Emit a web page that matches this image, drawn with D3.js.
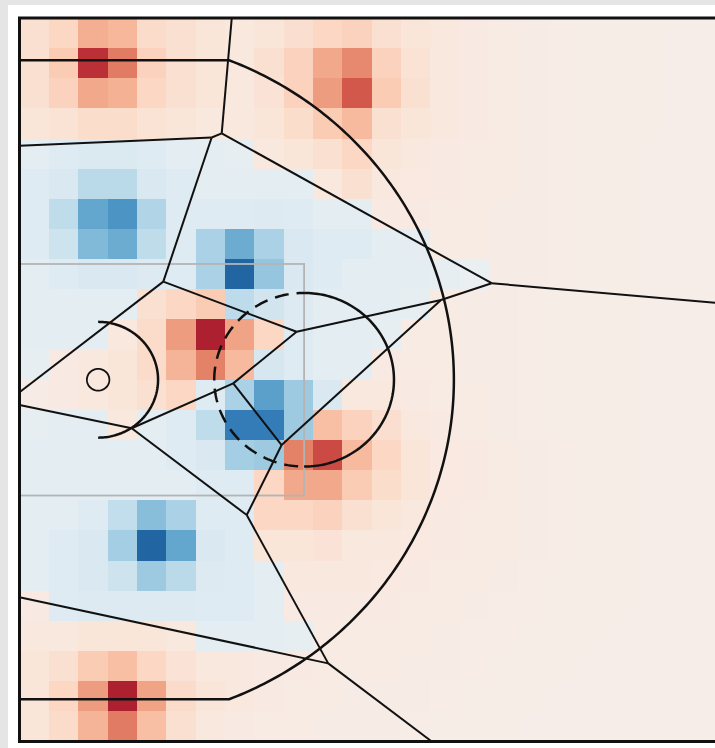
<!DOCTYPE html>
<html>
<head>
<meta charset="utf-8">
<script src="https://cdn.jsdelivr.net/npm/d3@7/dist/d3.min.js"></script>
<style>
  html, body { margin: 0; padding: 0; background: #e5e5e5; }
  svg { display: block; }
</style>
</head>
<body>
<svg id="chart" width="715" height="748"></svg>
<script>
// Half court in feet, baseline on the left, sidelines top and bottom.
const courtLength = 47;
const courtWidth = 50;
const hoop = [5.25, 25];
const rimRadius = 0.75;
const threeRadius = 23.75;
const cornerThreeX = 14;
const laneLength = 19;
const laneWidth = 16;
const freeThrowRadius = 6;
const restrictedRadius = 4;

// Shooting difference per grid bin (24 columns along the court length, 24 rows across).
// Positive = above average (red), negative = below average (blue).
const gridCols = 24;
const gridRows = 24;
const binValues = [
  [0.15, 0.20, 0.36, 0.33, 0.18, 0.15, 0.12, 0.10, 0.12, 0.16, 0.20, 0.22, 0.15, 0.12, 0.10, 0.08, 0.07, 0.06, 0.055, 0.05, 0.05, 0.05, 0.045, 0.045],
  [0.15, 0.25, 0.74, 0.52, 0.22, 0.15, 0.12, 0.10, 0.15, 0.22, 0.38, 0.48, 0.22, 0.14, 0.10, 0.08, 0.07, 0.06, 0.055, 0.05, 0.05, 0.05, 0.045, 0.045],
  [0.15, 0.22, 0.38, 0.35, 0.20, 0.15, 0.12, 0.10, 0.13, 0.22, 0.42, 0.62, 0.25, 0.15, 0.10, 0.08, 0.07, 0.06, 0.055, 0.05, 0.05, 0.05, 0.045, 0.045],
  [0.12, 0.14, 0.17, 0.17, 0.14, 0.12, 0.10, 0.10, 0.12, 0.17, 0.25, 0.32, 0.15, 0.12, 0.10, 0.08, 0.07, 0.06, 0.055, 0.05, 0.05, 0.05, 0.045, 0.045],
  [-0.10, -0.12, -0.14, -0.14, -0.12, -0.10, -0.10, -0.08, 0.10, 0.12, 0.15, 0.20, 0.12, 0.10, 0.08, 0.07, 0.065, 0.06, 0.055, 0.05, 0.05, 0.045, 0.045, 0.045],
  [-0.12, -0.15, -0.27, -0.27, -0.15, -0.12, -0.10, -0.10, -0.10, -0.10, 0.10, 0.15, 0.10, 0.09, 0.08, 0.07, 0.065, 0.06, 0.055, 0.05, 0.05, 0.045, 0.045, 0.045],
  [-0.12, -0.25, -0.52, -0.60, -0.30, -0.12, -0.12, -0.12, -0.13, -0.12, -0.10, -0.10, 0.08, 0.08, 0.07, 0.065, 0.06, 0.06, 0.055, 0.05, 0.05, 0.045, 0.045, 0.045],
  [-0.12, -0.20, -0.44, -0.50, -0.25, -0.12, -0.32, -0.50, -0.32, -0.15, -0.12, -0.12, -0.10, -0.09, 0.065, 0.065, 0.06, 0.06, 0.055, 0.05, 0.05, 0.045, 0.045, 0.045],
  [-0.10, -0.12, -0.15, -0.15, -0.13, -0.12, -0.32, -0.80, -0.38, -0.15, -0.12, -0.10, -0.10, -0.10, -0.08, -0.06, 0.06, 0.06, 0.055, 0.05, 0.05, 0.045, 0.045, 0.045],
  [-0.10, -0.10, -0.10, -0.10, 0.15, 0.20, 0.25, -0.26, -0.18, -0.13, -0.10, -0.10, -0.10, -0.08, 0.065, 0.06, 0.06, 0.055, 0.05, 0.05, 0.05, 0.045, 0.045, 0.045],
  [-0.10, -0.10, -0.10, 0.10, 0.18, 0.42, 0.80, 0.40, 0.20, -0.12, -0.10, -0.10, -0.08, 0.07, 0.065, 0.06, 0.06, 0.055, 0.05, 0.05, 0.05, 0.045, 0.045, 0.045],
  [-0.08, 0.08, 0.10, 0.12, 0.18, 0.34, 0.50, 0.32, -0.16, -0.12, -0.10, -0.10, 0.08, 0.07, 0.065, 0.06, 0.06, 0.055, 0.05, 0.05, 0.05, 0.045, 0.045, 0.045],
  [0.06, 0.08, 0.10, 0.12, 0.15, 0.20, -0.12, -0.32, -0.55, -0.36, -0.15, 0.10, 0.10, 0.08, 0.07, 0.065, 0.06, 0.055, 0.05, 0.05, 0.05, 0.045, 0.045, 0.045],
  [-0.08, -0.10, -0.10, 0.10, -0.10, -0.12, -0.25, -0.70, -0.70, -0.36, 0.30, 0.22, 0.16, 0.10, 0.08, 0.07, 0.06, 0.055, 0.05, 0.05, 0.05, 0.045, 0.045, 0.045],
  [-0.10, -0.10, -0.10, -0.10, -0.10, -0.12, -0.15, -0.34, -0.36, 0.50, 0.66, 0.32, 0.20, 0.12, 0.09, 0.075, 0.065, 0.06, 0.055, 0.05, 0.05, 0.045, 0.045, 0.045],
  [-0.10, -0.10, -0.10, -0.10, -0.10, -0.10, -0.12, -0.12, 0.20, 0.38, 0.38, 0.25, 0.17, 0.12, 0.09, 0.075, 0.065, 0.06, 0.055, 0.05, 0.05, 0.045, 0.045, 0.045],
  [-0.10, -0.10, -0.12, -0.24, -0.42, -0.32, -0.12, -0.12, 0.20, 0.20, 0.22, 0.15, 0.12, 0.10, 0.08, 0.07, 0.065, 0.06, 0.055, 0.05, 0.05, 0.045, 0.045, 0.045],
  [-0.10, -0.12, -0.15, -0.34, -0.80, -0.52, -0.15, -0.12, 0.12, 0.12, 0.13, 0.10, 0.10, 0.09, 0.08, 0.07, 0.065, 0.06, 0.055, 0.05, 0.05, 0.045, 0.045, 0.045],
  [-0.10, -0.12, -0.15, -0.20, -0.36, -0.27, -0.13, -0.12, -0.10, 0.10, 0.10, 0.10, 0.09, 0.08, 0.07, 0.065, 0.06, 0.055, 0.05, 0.05, 0.05, 0.045, 0.045, 0.045],
  [0.08, -0.12, -0.13, -0.13, -0.13, -0.13, -0.12, -0.12, -0.10, 0.08, 0.08, 0.08, 0.075, 0.07, 0.065, 0.06, 0.055, 0.055, 0.05, 0.05, 0.05, 0.045, 0.045, 0.045],
  [0.10, 0.10, 0.12, 0.12, 0.12, 0.10, -0.10, -0.10, -0.10, -0.08, 0.07, 0.07, 0.065, 0.065, 0.06, 0.055, 0.055, 0.05, 0.05, 0.05, 0.045, 0.045, 0.045, 0.045],
  [0.12, 0.15, 0.25, 0.30, 0.20, 0.13, 0.10, 0.10, 0.08, 0.08, 0.07, 0.07, 0.065, 0.06, 0.06, 0.055, 0.05, 0.05, 0.05, 0.045, 0.045, 0.045, 0.045, 0.045],
  [0.12, 0.20, 0.42, 0.80, 0.40, 0.18, 0.12, 0.10, 0.08, 0.07, 0.065, 0.06, 0.06, 0.06, 0.055, 0.05, 0.05, 0.05, 0.045, 0.045, 0.045, 0.045, 0.045, 0.045],
  [0.12, 0.18, 0.34, 0.52, 0.30, 0.15, 0.10, 0.08, 0.07, 0.065, 0.06, 0.06, 0.06, 0.055, 0.05, 0.05, 0.05, 0.045, 0.045, 0.045, 0.045, 0.045, 0.045, 0.045]
];

// Voronoi zone boundaries: vertex positions (feet) and the edges joining them.
const zoneVertexNames = ["T0", "B2", "B1", "L1", "G", "C", "Rt", "E", "D", "H", "I", "F", "J", "K", "L2", "L3", "L4", "Bt"];
const zoneVertexX = [14.17, 13.50, 12.83, 0, 9.60, 31.52, 47, 28.14, 18.50, 14.27, 7.49, 17.50, 15.17, 20.61, 0, 0, 0, 27.52];
const zoneVertexY = [0, 7.97, 8.26, 8.83, 18.22, 18.33, 19.73, 19.49, 21.68, 25.25, 28.35, 29.51, 34.35, 44.60, 25.86, 26.75, 40.03, 50];
const zoneEdges = [
  ["T0", "B2"], ["B2", "B1"], ["B1", "L1"], ["B1", "G"], ["B2", "C"], ["C", "Rt"],
  ["C", "E"], ["E", "D"], ["E", "F"], ["D", "G"], ["D", "H"], ["G", "L2"],
  ["H", "I"], ["H", "F"], ["I", "L3"], ["I", "J"], ["F", "J"], ["J", "K"],
  ["K", "L4"], ["K", "Bt"]
];

const svg = d3.select("#chart");

// White figure panel
svg.append("rect")
  .attr("x", 8).attr("y", 5)
  .attr("width", 715).attr("height", 748)
  .attr("fill", "#ffffff");

const x = d3.scaleLinear().domain([0, courtLength]).range([19.5, 723.5]);
const y = d3.scaleLinear().domain([0, courtWidth]).range([18, 741.5]);
const color = d3.scaleDiverging(d3.interpolateRdBu).domain([1, 0, -1]);

const binW = courtLength / gridCols;
const binH = courtWidth / gridRows;

const cells = [];
binValues.forEach((row, r) => row.forEach((v, c) => cells.push({ r, c, v })));

svg.append("g")
  .attr("shape-rendering", "crispEdges")
  .selectAll("rect")
  .data(cells)
  .join("rect")
  .attr("x", d => x(d.c * binW))
  .attr("y", d => y(d.r * binH))
  .attr("width", d => x((d.c + 1) * binW) - x(d.c * binW) + 0.6)
  .attr("height", d => y((d.r + 1) * binH) - y(d.r * binH) + 0.6)
  .attr("fill", d => color(d.v));

const line = d3.line().x(p => x(p[0])).y(p => y(p[1]));

function arcPoints(cx, cy, r, a0, a1, n = 120) {
  return d3.range(n + 1).map(i => {
    const a = a0 + (a1 - a0) * i / n;
    return [cx + r * Math.cos(a), cy + r * Math.sin(a)];
  });
}

// Lane (paint)
svg.append("rect")
  .attr("x", x(0))
  .attr("y", y(hoop[1] - laneWidth / 2))
  .attr("width", x(laneLength) - x(0))
  .attr("height", y(hoop[1] + laneWidth / 2) - y(hoop[1] - laneWidth / 2))
  .attr("fill", "none")
  .attr("stroke", "#b4b4b4")
  .attr("stroke-width", 1.8);

// Zone boundaries
const vIndex = new Map(zoneVertexNames.map((n, i) => [n, i]));
svg.append("g")
  .selectAll("path")
  .data(zoneEdges)
  .join("path")
  .attr("d", e => line(e.map(n => [zoneVertexX[vIndex.get(n)], zoneVertexY[vIndex.get(n)]])))
  .attr("fill", "none")
  .attr("stroke", "#111")
  .attr("stroke-width", 2);

const court = svg.append("g")
  .attr("fill", "none")
  .attr("stroke", "#111")
  .attr("stroke-width", 2.5);

// Three-point line: corners then arc
const cornerA = Math.acos((cornerThreeX - hoop[0]) / threeRadius);
const cornerDy = threeRadius * Math.sin(cornerA);
const threePts = [[0, hoop[1] - cornerDy]]
  .concat(arcPoints(hoop[0], hoop[1], threeRadius, -cornerA, cornerA, 200))
  .concat([[0, hoop[1] + cornerDy]]);
court.append("path").attr("d", line(threePts));

// Free-throw circle: solid toward half court, dashed toward the basket
const ftX = laneLength;
court.append("path").attr("d", line(arcPoints(ftX, hoop[1], freeThrowRadius, -Math.PI / 2, Math.PI / 2)));
court.append("path")
  .attr("d", line(arcPoints(ftX, hoop[1], freeThrowRadius, Math.PI / 2, 3 * Math.PI / 2)))
  .attr("stroke-dasharray", "14 8")
  .attr("stroke-dashoffset", -6);

// Restricted area
court.append("path").attr("d", line(arcPoints(hoop[0], hoop[1], restrictedRadius, -Math.PI / 2, Math.PI / 2)));

// Rim
court.append("path")
  .attr("d", line(arcPoints(hoop[0], hoop[1], rimRadius, 0, 2 * Math.PI, 60)) + "Z")
  .attr("stroke-width", 1.8);

// Court boundary
svg.append("rect")
  .attr("x", x(0)).attr("y", y(0))
  .attr("width", x(courtLength) - x(0))
  .attr("height", y(courtWidth) - y(0))
  .attr("fill", "none")
  .attr("stroke", "#111")
  .attr("stroke-width", 3);
</script>
</body>
</html>
